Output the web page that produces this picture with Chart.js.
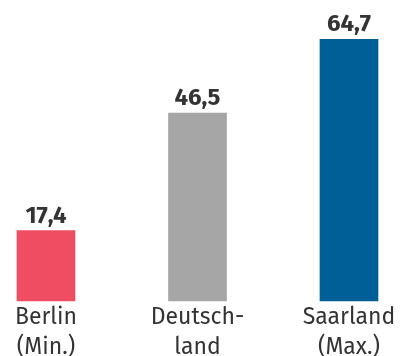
<!DOCTYPE html>
<html lang="de">
<head>
    <meta charset="UTF-8">
    <title>Vergleich der Länder</title>
    <script src="https://cdn.jsdelivr.net/npm/chart.js@4.4.1/dist/chart.umd.min.js"></script>
    <style>
        body {
            margin: 0;
            padding: 0;
            background-color: #ffffff;
        }

        .chart-container {
            position: relative;
            width: 401px;
            height: 356px;
        }
    </style>
</head>
<body>
    <div class="chart-container">
        <canvas id="laender-chart"></canvas>
    </div>

    <script>
        // Kategorien (mehrzeilige Beschriftungen) und Werte
        const labels = [['Berlin', '(Min.)'], ['Deutsch-', 'land'], ['Saarland', '(Max.)']];
        const values = [17.4, 46.5, 64.7];
        const barColors = ['#ef4d62', '#a6a6a6', '#005f97'];

        const fontFamily = '"Fira Sans", "Noto Sans", "Open Sans", sans-serif';

        // Werte mit Komma über die Balken schreiben
        const valueLabels = {
            id: 'valueLabels',
            afterDatasetsDraw(chart) {
                const ctx = chart.ctx;
                const meta = chart.getDatasetMeta(0);
                ctx.save();
                ctx.font = 'bold 24px ' + fontFamily;
                ctx.fillStyle = '#333333';
                ctx.textAlign = 'center';
                ctx.textBaseline = 'alphabetic';
                meta.data.forEach((bar, i) => {
                    const text = values[i].toLocaleString('de-DE', { minimumFractionDigits: 1 });
                    ctx.fillText(text, bar.x, bar.y - 8);
                });
                ctx.restore();
            }
        };

        new Chart(document.getElementById('laender-chart'), {
            type: 'bar',
            data: {
                labels: labels,
                datasets: [{
                    data: values,
                    backgroundColor: barColors,
                    barThickness: 58,
                    clip: false
                }]
            },
            options: {
                responsive: true,
                maintainAspectRatio: false,
                animation: false,
                layout: {
                    padding: { top: 18, left: 46, right: 52, bottom: 0 }
                },
                plugins: {
                    legend: { display: false },
                    tooltip: { enabled: false }
                },
                scales: {
                    x: {
                        offset: false,
                        grid: { display: false, drawTicks: false },
                        border: { display: false },
                        ticks: {
                            color: '#333333',
                            padding: 2,
                            maxRotation: 0,
                            autoSkip: false,
                            font: { family: fontFamily, size: 23, lineHeight: 1.28 }
                        },
                        afterFit(axis) {
                            axis.height = 55;
                        }
                    },
                    y: {
                        display: false,
                        min: 0,
                        max: 70
                    }
                }
            },
            plugins: [valueLabels]
        });
    </script>
</body>
</html>
